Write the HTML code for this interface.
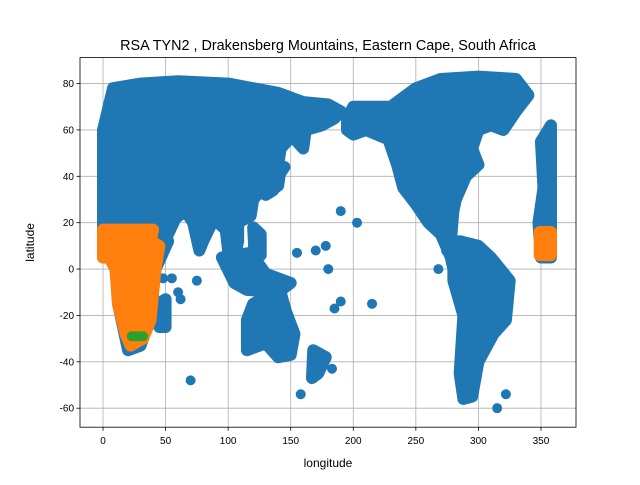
<!DOCTYPE html>
<html><head><meta charset="utf-8"><style>
body{margin:0;background:#fff;font-family:"Liberation Sans","DejaVu Sans",sans-serif}
</style></head><body>
<svg id="chart" width="640" height="480" xmlns="http://www.w3.org/2000/svg">
<rect width="640" height="480" fill="#fff"/>
<g id="grid"></g><g id="marks"></g><g id="axes"></g>
</svg>
<script>
const xTicks=[0,50,100,150,200,250,300,350];
const yTicks=[-60,-40,-20,0,20,40,60,80];
const eurasiaAfrica=[[0,60],[8,78],[30,80],[60,81],[100,80],[140,76],[160,72],[180,71],[190,68],[185,65],[175,62],[162,60],[160,52],[155,55],[152,58],[142,52],[140,45],[132,42],[128,35],[120,30],[118,23],[108,20],[108,12],[104,2],[100,8],[98,17],[92,20],[88,21],[80,12],[77,8],[72,20],[66,25],[58,22],[52,15],[45,12],[52,12],[42,0],[40,-10],[40,-20],[35,-25],[30,-33],[20,-35],[18,-30],[12,-15],[10,0],[5,5],[0,5]];
const japan=[[130,32],[140,36],[142,44],[145,44],[140,40],[136,34]];
const philippines=[[120,18],[126,15],[126,6],[121,7]];
const madagascar=[[44,-15],[50,-13],[50,-25],[45,-25]];
const americas=[[195,65],[200,70],[230,70],[250,78],[270,82],[300,83],[330,82],[340,75],[330,68],[320,60],[310,62],[300,60],[295,52],[300,45],[290,40],[282,30],[280,25],[278,12],[275,8],[285,12],[300,10],[310,5],[325,-5],[322,-22],[312,-28],[300,-40],[295,-55],[288,-56],[285,-45],[288,-20],[280,-5],[280,0],[278,5],[270,15],[260,20],[250,28],[240,35],[235,45],[228,56],[210,60],[200,58],[195,60]];
const westEurope=[[350,55],[358,62],[358,5],[350,5],[348,20],[352,35]];
const australia=[[115,-22],[120,-15],[130,-12],[142,-10],[146,-18],[153,-28],[150,-37],[140,-38],[130,-32],[115,-35]];
const islandsSEA=[[95,5],[118,7],[130,-2],[150,-6],[140,-10],[115,-9],[105,-6]];
const newZealand=[[168,-35],[178,-38],[172,-45],[167,-47]];
const islandPoints=[[203,20],[190,25],[170,8],[155,7],[215,-15],[185,-17],[190,-14],[268,0],[315,-60],[322,-54],[70,-48],[158,-54],[178,10],[180,0],[183,-43],[48,-4],[55,-4],[60,-10],[62,-13],[75,-5]];
const orangeAfrica=[[0,17],[40,17],[38,12],[45,10],[42,0],[40,-10],[38,-22],[32,-30],[22,-33],[18,-28],[12,-15],[10,0],[5,5],[0,5]];
const orangeEast=[[349,16],[358,16],[358,6],[349,6]];
const greenLon=[23,26,29,32];
const greenLat=[-29,-29,-29,-29];
const X0=-18.4,X1=378,Y0=-68.2,Y1=91.2,L=80,R=576,T=57.6,B=427.2;
const sx=v=>L+(v-X0)/(X1-X0)*(R-L);
const sy=v=>B-(v-Y0)/(Y1-Y0)*(B-T);
const NS="http://www.w3.org/2000/svg";
function mk(t,a,p){const e=document.createElementNS(NS,t);for(const k in a)e.setAttribute(k,a[k]);p.appendChild(e);return e;}
const grid=document.getElementById('grid'),marks=document.getElementById('marks'),axes=document.getElementById('axes');
xTicks.forEach(v=>{const l=mk('line',{x1:sx(v),x2:sx(v),y1:T,y2:B,stroke:'#b0b0b0','stroke-width':0.8},grid);});
yTicks.forEach(v=>{const l=mk('line',{x1:L,x2:R,y1:sy(v),y2:sy(v),stroke:'#b0b0b0','stroke-width':0.8},grid);});
function poly(pts,c,name){const p=mk('polygon',{points:pts.map(q=>sx(q[0])+','+sy(q[1])).join(' '),fill:c,stroke:c,'stroke-width':12,'stroke-linejoin':'round'},marks);}
poly(eurasiaAfrica,'#1f77b4','region-eurasia-africa');
poly(japan,'#1f77b4','region-japan');
poly(philippines,'#1f77b4','region-philippines');
poly(madagascar,'#1f77b4','region-madagascar');
poly(americas,'#1f77b4','region-americas');
poly(westEurope,'#1f77b4','region-west-europe');
poly(australia,'#1f77b4','region-australia');
poly(islandsSEA,'#1f77b4','region-sea-islands');
poly(newZealand,'#1f77b4','region-new-zealand');
islandPoints.forEach(q=>{const c=mk('circle',{cx:sx(q[0]),cy:sy(q[1]),r:5,fill:'#1f77b4'},marks);});
poly(orangeAfrica,'#ff7f0e','region-orange-africa');
poly(orangeEast,'#ff7f0e','region-orange-east');
greenLon.forEach((v,i)=>{const c=mk('circle',{cx:sx(v),cy:sy(greenLat[i]),r:5,fill:'#2ca02c'},marks);});
const fr=mk('rect',{x:L,y:T,width:R-L,height:B-T,fill:'none',stroke:'#000','stroke-width':0.8},axes);
xTicks.forEach(v=>{mk('line',{x1:sx(v),x2:sx(v),y1:B,y2:B+3.5,stroke:'#000','stroke-width':0.8},axes);const t=mk('text',{x:sx(v),y:B+17,'text-anchor':'middle','font-size':10,fill:'#000'},axes);t.textContent=v;});
yTicks.forEach(v=>{mk('line',{x1:L,x2:L-3.5,y1:sy(v),y2:sy(v),stroke:'#000','stroke-width':0.8},axes);const t=mk('text',{x:L-6,y:sy(v)+3.5,'text-anchor':'end','font-size':10,fill:'#000'},axes);t.textContent=v;});
let t=mk('text',{x:(L+R)/2,y:467,'text-anchor':'middle','font-size':12},axes);t.textContent='longitude';
t=mk('text',{x:34,y:(T+B)/2,'text-anchor':'middle','font-size':12,transform:`rotate(-90 34 ${(T+B)/2})`},axes);t.textContent='latitude';
t=mk('text',{x:(L+R)/2,y:50,'text-anchor':'middle','font-size':14.4},axes);t.textContent='RSA TYN2 , Drakensberg Mountains, Eastern Cape, South Africa';
</script>
</body></html>
